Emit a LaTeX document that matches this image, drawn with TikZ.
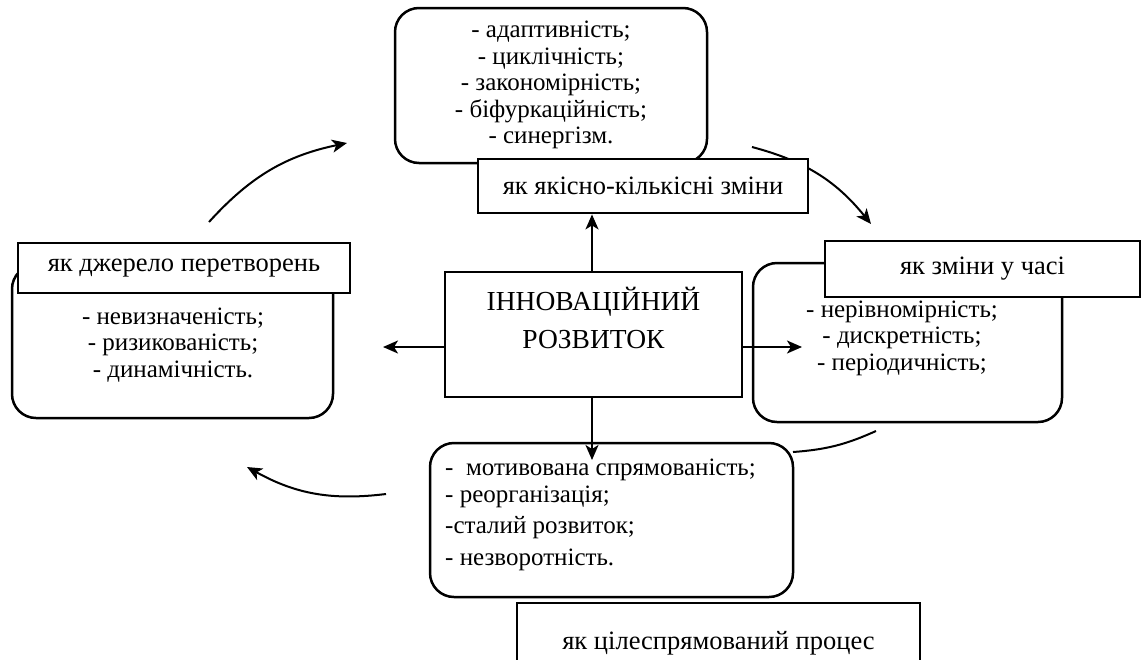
\documentclass[tikz,border=0pt]{standalone}
\usepackage{fontspec}
\setmainfont{Liberation Serif}
\usetikzlibrary{arrows.meta}

\tikzset{
  listbox/.style={draw, line width=2.5pt, rounded corners=24pt, inner sep=0pt},
  listtxt/.style={align=center, inner sep=0pt, font=\fontsize{25}{26.5}\selectfont},
  tagbox/.style={draw, line width=2.8pt, fill=white, inner sep=0pt, font=\fontsize{26.5}{30}\selectfont},
  link/.style={line width=2pt, -{Stealth[length=15pt,width=13pt,inset=4pt]}},
  turn/.style={line width=2pt, bend left=18},
}

\begin{document}
\begin{tikzpicture}[x=1pt, y=-1pt]

\path[use as bounding box, clip] (0,0) rectangle (1142,659);

% rounded boxes
\node[listbox, minimum width=312pt, minimum height=155pt] (topbox) at (551,85.5) {};
\node[listbox, minimum width=321pt, minimum height=153pt] (lftbox) at (172.5,341.5) {};
\node[listbox, minimum width=309pt, minimum height=159pt] (rgtbox) at (907.5,342.5) {};
\node[listbox, minimum width=363pt, minimum height=154pt] (botbox) at (611.5,520) {};

% lists
\node[listtxt] (toptxt) at (551,85) {- адаптивність;\\ - циклічність;\\ - закономірність;\\ - біфуркаційність;\\ - синергізм.};
\node[listtxt] (lfttxt) at (173,345) {- невизначеність;\\ - ризикованість;\\ - динамічність.};
\node[listtxt] (rgttxt) at (902,338) {- нерівномірність;\\ - дискретність;\\ - періодичність;};
\node[listtxt, align=left, anchor=west] (bottxt) at (445,515) {-\ \ мотивована спрямованість;\\ - реорганізація;\\[5pt] -сталий розвиток;\\[5pt] - незворотність.};

% cycle
\coordinate (c1s) at (209,222);
\coordinate (c1e) at (347,143);
\coordinate (c2s) at (752,147);
\coordinate (c2e) at (871,224);
\coordinate (c3s) at (876,431);
\coordinate (c3e) at (793,452);
\coordinate (c4s) at (386,494);
\coordinate (c4e) at (247,467);
\draw[link, turn] (c1s) to (c1e);
\draw[link, turn] (c2s) to (c2e);
\draw[turn, bend left=10] (c3s) to (c3e);
\draw[link, turn] (c4s) to (c4e);

% labels
\node[tagbox, minimum width=330pt, minimum height=54pt] (toplbl) at (643,186) {як якісно-кількісні зміни};
\node[tagbox, minimum width=332pt, minimum height=50pt] (lftlbl) at (184,268) {як джерело перетворень};
\node[tagbox, minimum width=315pt, minimum height=56pt] (rgtlbl) at (982.5,269) {як зміни у часі};
\node[tagbox, minimum width=403pt, minimum height=80pt] (botlbl) at (718.5,643) {як цілеспрямований процес};

% centre
\node[draw, line width=2.8pt, minimum width=297pt, minimum height=125pt] (core) at (593.5,334.5) {};
\node[align=center, inner sep=0pt, font=\fontsize{27.5}{38}\selectfont] (coretxt) at (593.5,318) {ІННОВАЦІЙНИЙ\\ РОЗВИТОК};

% arrow ends
\coordinate (dwntip) at (592,460);
\coordinate (lfttip) at (383,347);
\coordinate (rgttip) at (802,347);
\draw[link] (core.north -| dwntip) -- (toplbl.south -| dwntip);
\draw[link] (core.south -| dwntip) -- (dwntip);
\draw[link] (core.west |- lfttip) -- (lfttip);
\draw[link] (core.east |- rgttip) -- (rgttip);

\end{tikzpicture}
\end{document}
